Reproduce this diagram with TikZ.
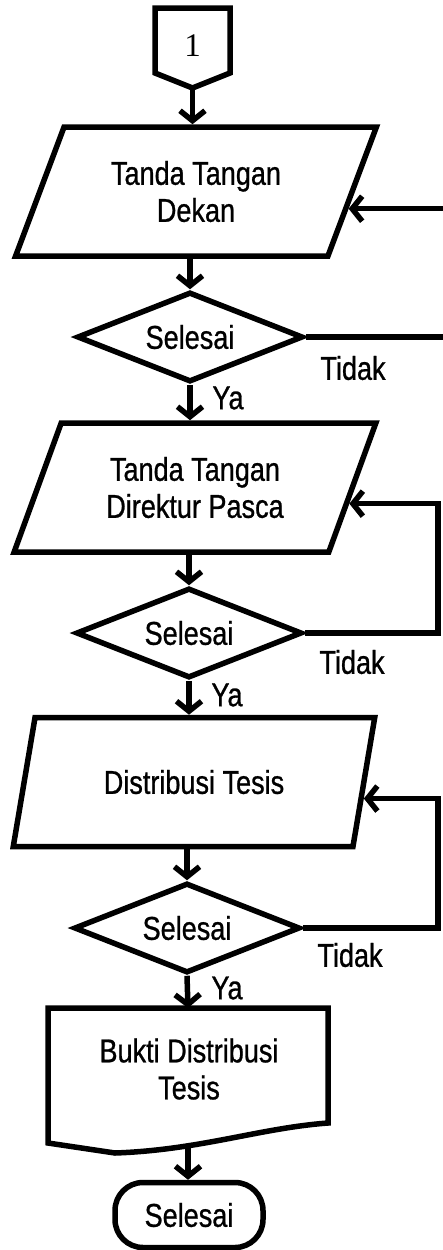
\documentclass[tikz,border=0pt]{standalone}
\usepackage{fontspec}
\setmainfont{Liberation Sans}[FakeStretch=0.82,FakeBold=0.8]
\newfontfamily\serifnum{Liberation Serif}
\usetikzlibrary{shapes.geometric,arrows.meta,calc}
\begin{document}
\begin{tikzpicture}[x=1pt,y=-1pt,
  font=\fontsize{33}{37}\selectfont,
  lw/.style={line width=5.5pt},
  para/.style={trapezium, trapezium left angle=63, trapezium right angle=117,
    trapezium stretches=true, draw, line width=5.5pt, minimum width=362pt,
    minimum height=129pt, align=center, inner sep=0pt},
  dec/.style={diamond, draw, line width=5.5pt, aspect=2.5, minimum width=226pt,
    minimum height=90pt, inner sep=0pt},
  arr/.style={line width=5.5pt, -{Straight Barb[length=10pt,width=25pt]}},
  lbl/.style={inner sep=0pt}
]
\useasboundingbox (0,0) rectangle (442,1250);

% off-page connector
\draw[lw, line join=miter] (155,8) -- (230,8) -- (230,73) -- (192.5,88) -- (155,73) -- cycle;
\node[lbl, font=\serifnum\fontsize{33}{37}\selectfont] (c1) at (192.5,46) {1};
\coordinate (c1tip) at (192.5,88);

% shapes
\node[para] (p1) at (196,191.5) {Tanda Tangan\\Dekan};
\node[dec] (d1) at (190,337) {Selesai};
\node[para] (p2) at (195,487.5) {Tanda Tangan\\Direktur Pasca};
\node[dec] (d2) at (189,633) {Selesai};
\node[para] (p3) at (194,782) {Distribusi Tesis};
\node[dec] (d3) at (187,928) {Selesai};

% document
\draw[lw, line join=miter] (48,1143) -- (48,1008) -- (328,1008) -- (328,1123)
  .. controls (260,1128) and (200,1150) .. (115,1153) -- cycle;
\node[lbl, align=center] (doc) at (189,1069) {Bukti Distribusi\\Tesis};
\coordinate (doctop) at (188,1008);
\coordinate (docb) at (188,1148);

% terminal
\node[draw, lw, rounded corners=28pt, minimum width=148pt, minimum height=65pt] (end) at (189,1215) {Selesai};

% entry points on the slanted sides
\coordinate (p1in) at ($(p1.bottom right corner)!0.372!(p1.top right corner)$);
\coordinate (p2in) at ($(p2.bottom right corner)!0.38!(p2.top right corner)$);
\coordinate (p3in) at ($(p3.bottom right corner)!0.377!(p3.top right corner)$);
\coordinate (xr1) at (462,0);
\coordinate (xr2) at (438,0);

% main flow
\draw[arr] (c1tip) -- (c1tip |- p1.north);
\draw[arr] (d1.north |- p1.south) -- (d1.north);
\draw[arr] (d1.south) -- (d1.south |- p2.north);
\draw[arr] (d2.north |- p2.south) -- (d2.north);
\draw[arr] (d2.south) -- (d2.south |- p3.north);
\draw[arr] (d3.north |- p3.south) -- (d3.north);
\draw[arr] (d3.south) -- (doctop);
\draw[arr] (docb) -- (docb |- end.north);

% loops
\draw[arr] (d1.east) -| (xr1 |- p1in) -- (p1in);
\draw[arr] (d2.east) -| (xr2 |- p2in) -- (p2in);
\draw[arr] (d3.east) -| (xr2 |- p3in) -- (p3in);

% labels
\node[lbl] (t1) at (353,368) {Tidak};
\node[lbl] (y1) at (228,398) {Ya};
\node[lbl] (t2) at (352,662) {Tidak};
\node[lbl] (y2) at (227,695) {Ya};
\node[lbl] (t3) at (350,955) {Tidak};
\node[lbl] (y3) at (227,988) {Ya};
\end{tikzpicture}
\end{document}
